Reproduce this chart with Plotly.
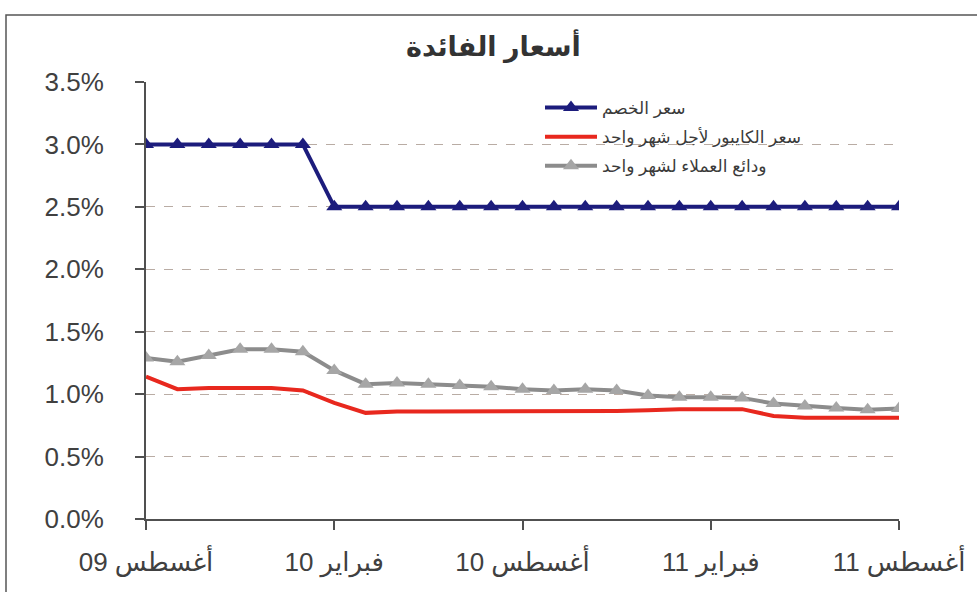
import plotly.graph_objects as go

months = ["2009-08", "2009-09", "2009-10", "2009-11", "2009-12", "2010-01",
          "2010-02", "2010-03", "2010-04", "2010-05", "2010-06", "2010-07",
          "2010-08", "2010-09", "2010-10", "2010-11", "2010-12", "2011-01",
          "2011-02", "2011-03", "2011-04", "2011-05", "2011-06", "2011-07",
          "2011-08"]

discount_rate = [3.0, 3.0, 3.0, 3.0, 3.0, 3.0,
                 2.5, 2.5, 2.5, 2.5, 2.5, 2.5, 2.5, 2.5, 2.5, 2.5, 2.5, 2.5,
                 2.5, 2.5, 2.5, 2.5, 2.5, 2.5, 2.5]
kaibor_1m = [1.14, 1.04, 1.05, 1.05, 1.05, 1.03, 0.93, 0.85, 0.86, 0.86,
             0.86, 0.86, 0.865, 0.865, 0.865, 0.865, 0.87, 0.88, 0.88, 0.88,
             0.825, 0.81, 0.81, 0.81, 0.81]
deposits_1m = [1.29, 1.26, 1.31, 1.36, 1.36, 1.34, 1.19, 1.08, 1.09, 1.08,
               1.07, 1.06, 1.04, 1.03, 1.04, 1.03, 0.99, 0.975, 0.975, 0.97,
               0.925, 0.905, 0.89, 0.875, 0.885]

series_names = ["سعر الخصم", "سعر الكايبور لأجل شهر واحد", "ودائع العملاء لشهر واحد"]
tick_months = ["2009-08", "2010-02", "2010-08", "2011-02", "2011-08"]
tick_labels = ["أغسطس 09", "فبراير 10", "أغسطس 10", "فبراير 11", "أغسطس 11"]
y_ticks = [0.0, 0.5, 1.0, 1.5, 2.0, 2.5, 3.0, 3.5]
y_tick_labels = ["0.0%", "0.5%", "1.0%", "1.5%", "2.0%", "2.5%", "3.0%", "3.5%"]
title_text = "أسعار الفائدة"

W, H = 977, 592
L, R, T, B = 146, 78, 82, 73
pw, ph = W - L - R, H - T - B

FONT = "Arial, 'Liberation Sans', 'DejaVu Sans', sans-serif"

fig = go.Figure()
fig.add_trace(go.Scatter(
    x=months, y=discount_rate, name=series_names[0], mode="lines+markers",
    line=dict(color="#1c1c7c", width=4),
    marker=dict(symbol="triangle-up", size=14, color="#1c1c7c"),
    legendgroup="a"))
fig.add_trace(go.Scatter(
    x=months, y=kaibor_1m, name=series_names[1], mode="lines",
    line=dict(color="#e8281e", width=4),
    legendgroup="b"))
fig.add_trace(go.Scatter(
    x=months, y=deposits_1m, name=series_names[2], mode="lines+markers",
    line=dict(color="#8c8c8c", width=4),
    marker=dict(symbol="triangle-up", size=14, color="#a6a6a6"),
    legendgroup="c"))

def px_x(p):
    return (p - L) / pw

def px_y(p):
    return (H - B - p) / ph

fig.add_shape(type="rect", xref="paper", yref="paper",
              x0=px_x(6), x1=px_x(W + 10), y0=px_y(H + 10), y1=px_y(15),
              line=dict(color="#555555", width=1.5), layer="below")

fig.update_layout(
    width=W, height=H,
    margin=dict(l=L, r=R, t=T, b=B, autoexpand=False),
    paper_bgcolor="white", plot_bgcolor="white",
    font=dict(family=FONT, color="#404040"),
    title=dict(text=title_text, x=0.505, xanchor="center", y=1 - 47 / H,
               yanchor="middle",
               font=dict(size=27, color="#333333", family=FONT, weight="bold")),
    showlegend=True,
    legend=dict(x=px_x(540), y=px_y(90), xanchor="left", yanchor="top",
                bgcolor="rgba(0,0,0,0)", font=dict(size=17, color="#3a3a3a"),
                itemwidth=52, traceorder="grouped", tracegroupgap=4),
    hovermode=False,
)
fig.update_xaxes(
    type="category", range=[0, len(months) - 1],
    tickmode="array", tickvals=tick_months, ticktext=tick_labels,
    showgrid=False, zeroline=False,
    showline=True, linecolor="#505050", linewidth=2,
    ticks="outside", ticklen=9, tickwidth=2, tickcolor="#505050",
    tickfont=dict(size=26, color="#404040"), ticklabelstandoff=10,
)
fig.update_yaxes(
    range=[0, 3.5], tickmode="array", tickvals=y_ticks, ticktext=y_tick_labels,
    showgrid=True, gridcolor="#b9aca4", griddash="dash", gridwidth=1,
    zeroline=False,
    showline=True, linecolor="#505050", linewidth=2,
    ticks="outside", ticklen=9, tickwidth=2, tickcolor="#505050",
    tickfont=dict(size=26, color="#404040"), ticklabelstandoff=26,
)

fig.write_html("out.html", config={"displayModeBar": False},
               post_script="document.body.style.margin='0';")
